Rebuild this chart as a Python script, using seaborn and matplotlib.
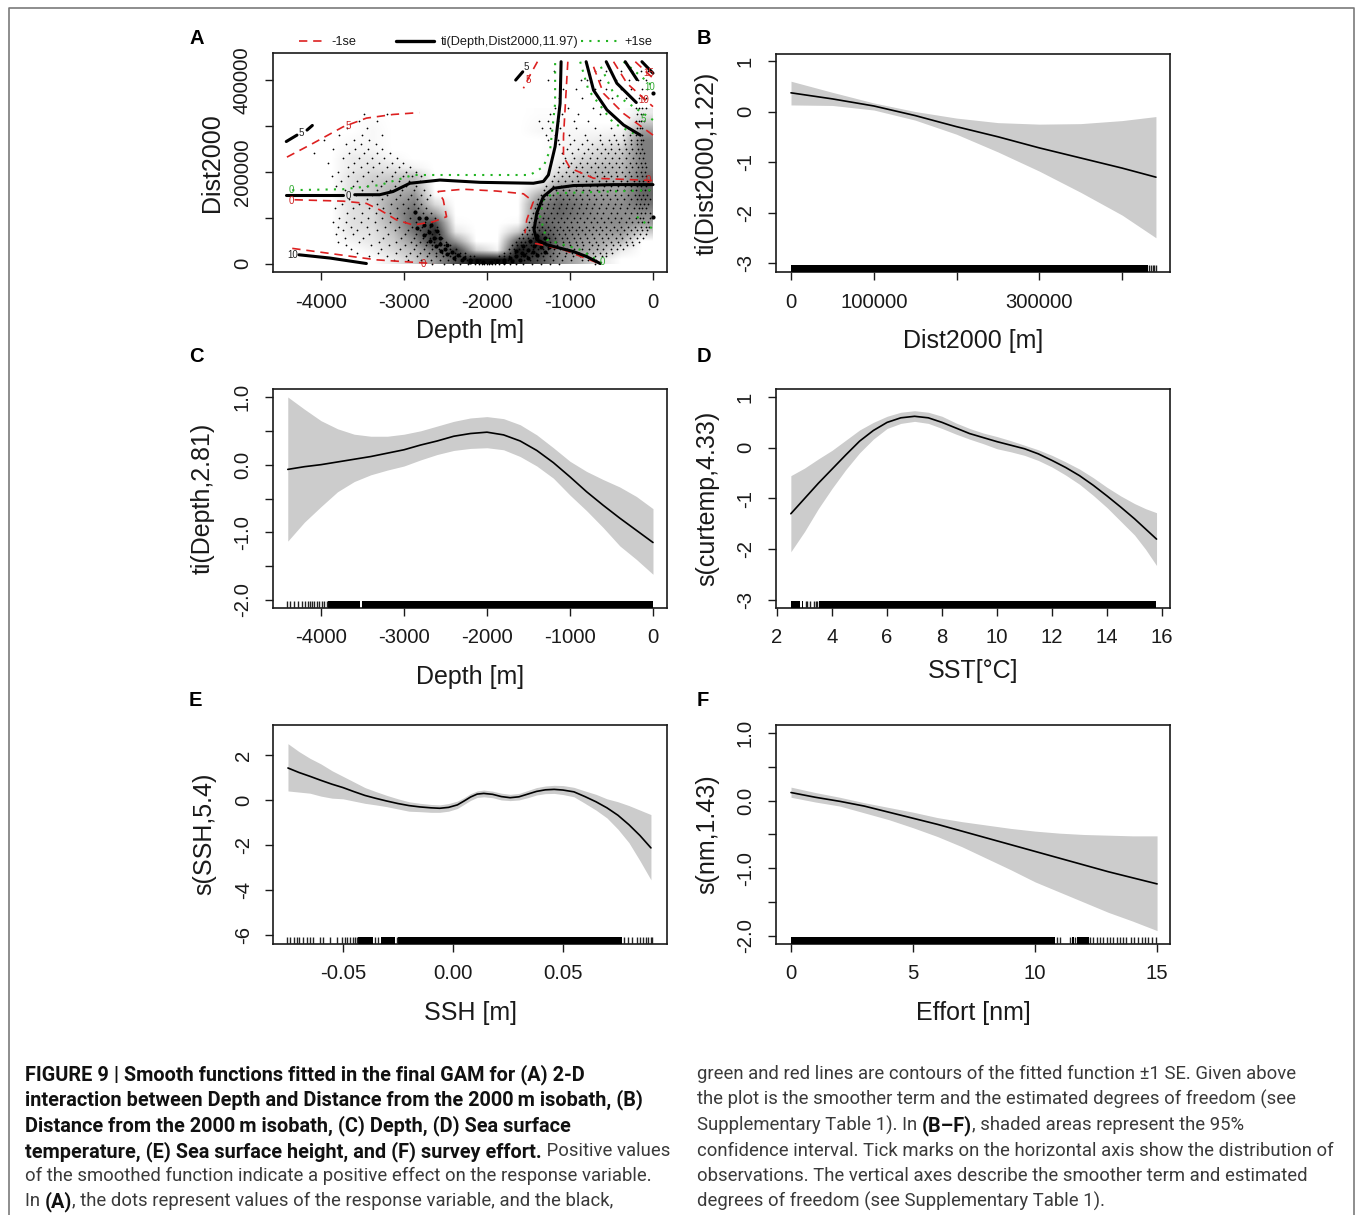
import matplotlib
matplotlib.use("Agg")
import matplotlib.pyplot as plt
import seaborn as sns
import pandas as pd
from matplotlib.lines import Line2D

sns.set_theme(style="ticks")
plt.rcParams['font.family'] = ['Liberation Sans', 'DejaVu Sans']

# ---------- panel B ----------
b_x = [0, 50000, 100000, 150000, 200000, 250000, 300000, 350000, 400000, 441000]
b_fit = [.37, .25, .11, -.08, -.30, -.50, -.72, -.92, -1.12, -1.30]
b_up = [.60, .38, .17, .0, -.13, -.22, -.25, -.24, -.18, -.10]
b_lo = [.13, .12, .03, -.17, -.45, -.80, -1.18, -1.60, -2.05, -2.50]
b_bands = [(0, 432000)]
b_rug = [433000, 435000, 437000, 439000, 441000]
# ---------- panel C ----------
c_x = [-4400, -4200, -4000, -3800, -3600, -3400, -3200, -3000, -2800, -2600, -2400, -2200, -2000, -1800, -1600, -1400, -1200, -1000, -800, -600, -400, -200, 0]
c_fit = [-.07, -.03, .0, .04, .08, .12, .17, .22, .29, .35, .42, .46, .48, .44, .35, .21, .03, -.18, -.40, -.60, -.79, -.97, -1.15]
c_up = [1.0, .82, .65, .53, .45, .42, .42, .45, .50, .57, .64, .69, .71, .68, .59, .44, .25, .05, -.10, -.22, -.33, -.47, -.65]
c_lo = [-1.13, -.85, -.62, -.40, -.25, -.15, -.08, -.02, .07, .15, .21, .24, .25, .22, .12, -.02, -.20, -.45, -.68, -.93, -1.2, -1.4, -1.62]
c_bands = [(-3912, -3525), (-3505, 0)]
c_rug = [-4405, -4373, -4325, -4273, -4233, -4193, -4153, -4133, -4112, -4084, -4052, -4020, -3992, -3964, -3932]
# ---------- panel D ----------
d_x = [2.5, 3, 3.5, 4, 4.5, 5, 5.5, 6, 6.5, 7, 7.5, 8, 8.5, 9, 9.5, 10, 10.5, 11, 11.5, 12, 12.5, 13, 13.5, 14, 14.5, 15, 15.4, 15.8]
d_fit = [-1.30, -1.0, -.70, -.42, -.14, .13, .34, .50, .59, .62, .59, .50, .39, .28, .20, .12, .05, -.02, -.12, -.25, -.39, -.55, -.74, -.95, -1.17, -1.40, -1.60, -1.80]
d_up = [-.55, -.40, -.22, -.05, .15, .35, .50, .62, .70, .73, .70, .62, .49, .38, .29, .22, .14, .05, -.04, -.15, -.28, -.42, -.59, -.78, -.95, -1.10, -1.20, -1.28]
d_lo = [-2.05, -1.65, -1.2, -.80, -.43, -.10, .17, .38, .48, .52, .48, .38, .27, .17, .08, -.02, -.08, -.15, -.25, -.38, -.54, -.72, -.94, -1.18, -1.45, -1.72, -2.0, -2.32]
d_bands = [(2.51, 2.84), (2.9, 2.96), (3.53, 15.78)]
d_rug = [3.04, 3.1, 3.2, 3.36, 3.4, 3.44]
# ---------- panel E ----------
e_x = [-.075, -.07, -.065, -.06, -.055, -.05, -.045, -.04, -.035, -.03, -.025, -.02, -.015, -.01, -.006, -.002, .002, .005, .008, .011, .014, .018, .022, .026, .03, .034, .038, .042, .046, .05, .055, .06, .065, .07, .075, .08, .085, .09]
e_fit = [1.42, 1.22, 1.05, .87, .70, .55, .37, .20, .07, -.05, -.16, -.25, -.31, -.35, -.37, -.33, -.22, -.05, .13, .26, .29, .25, .15, .10, .14, .26, .38, .45, .47, .44, .36, .15, -.08, -.35, -.68, -1.10, -1.58, -2.13]
e_up = [2.5, 2.15, 1.85, 1.6, 1.3, 1.05, .8, .55, .37, .20, .05, -.08, -.15, -.20, -.22, -.16, -.05, .1, .28, .40, .44, .39, .30, .25, .29, .42, .55, .62, .65, .64, .56, .40, .25, .05, -.08, -.25, -.45, -.65]
e_lo = [.40, .35, .30, .17, .08, .05, -.05, -.15, -.22, -.30, -.40, -.50, -.52, -.55, -.55, -.50, -.38, -.2, -.02, .11, .14, .10, .0, -.03, 0, .1, .22, .28, .29, .24, .14, -.15, -.45, -.80, -1.3, -1.9, -2.7, -3.55]
e_bands = [(-.0430, -.0362), (-.0325, -.0264), (-.0249, .0767)]
e_rug = [-.0753, -.0741, -.0723, -.0711, -.0699, -.0680, -.0662, -.0650, -.0635, -.0605, -.0590, -.0559, -.0529, -.0506,
         -.0491, -.0480, -.0468, -.0456, -.0445, -.0435, -.0355, -.0339, -.0256, .0777, .0797, .0812, .0835, .0850,
         .0865, .0877, .0887, .0898, .0907]
# ---------- panel F ----------
f_x = [0, 1, 2, 3, 4, 5, 6, 7, 8, 9, 10, 11, 12, 13, 14, 15]
f_fit = [.12, .05, -.01, -.08, -.17, -.26, -.35, -.45, -.55, -.65, -.75, -.85, -.95, -1.05, -1.14, -1.23]
f_up = [.20, .12, .05, -.03, -.10, -.17, -.25, -.31, -.36, -.41, -.45, -.48, -.50, -.51, -.52, -.52]
f_lo = [.05, -.02, -.08, -.18, -.28, -.40, -.53, -.68, -.85, -1.02, -1.20, -1.35, -1.50, -1.65, -1.78, -1.92]
f_bands = [(0, 10.82), (11.5, 11.6), (11.7, 12.2)]
f_rug = [10.9, 11.03, 11.43, 11.64, 12.25, 12.39, 12.52, 12.66, 12.8, 12.93, 13.07, 13.21, 13.34, 13.48, 13.62, 13.71,
         13.93, 14.07, 14.23, 14.37, 14.51, 14.64, 14.78, 14.95]

# ---------- panel A: contours (Depth [m], Dist2000 [km]) ----------
black_lines = [
    ([-4418, -3734], [150, 150]),
    ([-3593, -3292, -3131, -2929, -2567, -2084, -1441, -1320, -1260, -1179, -1119, -1107], [150, 150, 157, 175, 182, 177, 175, 179, 193, 255, 349, 440]),
    ([0, -475, -958, -1199, -1320, -1400, -1433, -1400, -1280, -958, -797, -636], [172, 172, 170, 164, 146, 110, 73, 52, 41, 26, 15, 0]),
    ([-805, -716, -555, -354, -153], [440, 378, 335, 302, 280]),
    ([-563, -435, -201], [440, 393, 351]),
    ([-334, -193], [440, 401]),
    ([-133, 0], [440, 415]),
    ([-4418, -4289], [266, 280]),
    ([-4168, -4104], [291, 301]),
    ([-1654, -1569], [400, 418]),
    ([-4265, -3895, -3453], [19, 12, 0]),
]
red_lines = [
    ([-4410, -4096, -3734, -3453, -3131, -2817], [232, 262, 298, 317, 325, 329]),
    ([-4318, -3734, -3453, -3292, -3090, -2889, -2648, -2487, -2527, -2588, -2286, -1883, -1561, -1441, -1521, -1541],
     [139, 136, 131, 117, 95, 84, 91, 102, 139, 157, 162, 158, 152, 135, 95, 66]),
    ([-4346, -3895, -3332, -2648], [33, 22, 8, 0]),
    ([-1421, -1078, -676], [44, 30, 2]),
    ([-1392, -1481, -1561], [440, 411, 382]),
    ([-1026, -1078, -1078, -998, -716, 0], [440, 277, 233, 208, 186, 181]),
    ([-716, -596, -354, 0], [429, 371, 327, 280]),
    ([-475, -314, 0], [440, 393, 342]),
    ([-213, 0], [440, 404]),
]
green_lines = [
    ([-4346, -3734, -3292, -2889, -1481, -1320, -1239, -1179, -1179], [160, 162, 171, 193, 193, 211, 248, 349, 440]),
    ([-616, -877, -1280, -1360, -1320, -1199, 0], [1, 30, 52, 102, 139, 153, 160]),
    ([-877, -777, -475, -193], [440, 378, 306, 280]),
    ([-628, -475, 0], [429, 371, 313]),
    ([-354, 0], [440, 386]),
    ([-193, 0], [102, 75]),
]
contour_labels = [
    (-4237, 284, "5", "#222222"), (-3666, 148, "0", "#222222"), (-4346, 19, "10", "#222222"), (-1521, 429, "5", "#222222"),
    (-3674, 300, "5", "#cc2222"), (-4358, 136, "0", "#cc2222"), (-2769, -1, "0", "#cc2222"), (-1501, 400, "5", "#cc2222"),
    (-52, 182, "0", "#cc2222"), (-52, 415, "15", "#cc2222"), (-113, 356, "10", "#cc2222"),
    (-4358, 160, "0", "#33aa33"), (-616, 4, "0", "#33aa33"), (-40, 385, "10", "#33aa33"), (-113, 315, "5", "#33aa33"),
]

# how dark the cloud of observations looks in panel A (bottom row first)
cloud_depth_edges = (-4000, 0)
cloud_dist_edges = (0, 340)
cloud_rows = [
    [0, 0, 0, .08, .20, .40, .70, .95, .95, .85, .70, .45, .30, .10, 0, 0],
    [0, 0, .05, .15, .28, .55, .80, .20, .05, .90, .80, .45, .38, .28, .08, 0],
    [0, .05, .10, .20, .42, .80, .40, 0, 0, .65, .90, .55, .42, .35, .28, 0],
    [0, .10, .12, .25, .55, .85, .10, 0, 0, .22, .72, .55, .48, .40, .40, .20],
    [0, .12, .15, .32, .62, .70, .02, 0, 0, .02, .62, .55, .48, .45, .45, .40],
    [0, .12, .15, .38, .60, .38, 0, 0, 0, 0, .55, .60, .52, .45, .45, .45],
    [0, .12, .18, .38, .52, .15, 0, 0, 0, 0, .50, .60, .52, .45, .45, .55],
    [0, .12, .20, .32, .42, .02, 0, 0, 0, 0, .32, .52, .45, .40, .40, .60],
    [0, .12, .20, .28, .30, 0, 0, 0, 0, 0, .10, .35, .35, .35, .35, .60],
    [0, .12, .18, .20, .25, 0, 0, 0, 0, 0, 0, .20, .28, .30, .30, .55],
    [0, .08, .12, .10, .05, 0, 0, 0, 0, 0, 0, .10, .22, .28, .28, .50],
    [0, .08, .08, .03, 0, 0, 0, 0, 0, 0, 0, .05, .15, .20, .25, .50],
    [0, .04, .04, 0, 0, 0, 0, 0, 0, 0, 0, .03, .08, .15, .20, .50],
    [0, .02, .03, 0, 0, 0, 0, 0, 0, 0, 0, .03, .05, .08, .10, .50],
    [0, 0, .03, 0, 0, 0, 0, 0, 0, 0, .03, .03, .03, .03, .05, .38],
    [0, 0, .02, 0, 0, 0, 0, 0, 0, 0, .02, .02, 0, 0, 0, .20],
    [0, 0, 0, 0, 0, 0, 0, 0, 0, 0, .01, .01, 0, 0, 0, .08],
]

# observations in panel A, read row by row: one Dist2000 level [km], its Depth values [m]
obs_dist = [0, 8, 16, 24, 32, 40, 48, 56, 64, 72, 80, 90, 100, 110, 120, 130, 140, 150, 160, 170, 180, 190, 200, 210, 220,
            230, 240, 250, 260, 270, 280, 295, 310, 325, 340, 360, 380, 400, 420]
obs_depth = [
    [-2660, -2520, -2410, -2320, -2230, -2150, -2100, -2060, -2030, -2000, -1970, -1940, -1900, -1860, -1800, -1720, -1650, -1560, -1460, -1350, -1240, -1130, -700],
    [-3120, -2950, -2800, -2680, -2560, -2470, -2380, -2300, -2240, -2180, -2130, -2090, -1910, -1860, -1810, -1750, -1690, -1620, -1550, -1480, -1400, -1310, -1200, -1100, -990, -850, -780, -690],
    [-3420, -3200, -2980, -2840, -2720, -2620, -2530, -2450, -2390, -2330, -2270, -2210, -2160, -1850, -1790, -1730, -1660, -1590, -1520, -1460, -1390, -1320, -1240, -1160, -1060, -960, -880, -790, -700, -620, -560],
    [-3560, -3310, -3100, -2930, -2810, -2700, -2610, -2540, -2460, -2390, -2320, -2260, -1790, -1720, -1660, -1590, -1530, -1470, -1410, -1350, -1280, -1210, -1130, -1050, -970, -890, -800, -720, -640, -560, -490],
    [-3640, -3280, -3050, -2880, -2760, -2660, -2580, -2510, -2440, -2370, -1740, -1680, -1620, -1570, -1500, -1440, -1380, -1320, -1260, -1190, -1120, -1030, -950, -860, -770, -680, -600, -510, -430, -360],
    [-3700, -3400, -3180, -2990, -2850, -2740, -2660, -2590, -2520, -2450, -1700, -1640, -1590, -1530, -1470, -1410, -1350, -1290, -1230, -1160, -1090, -1000, -920, -840, -740, -660, -570, -480, -400, -310, -240],
    [-3800, -3540, -3300, -3100, -2920, -2810, -2720, -2640, -2570, -2490, -1650, -1590, -1540, -1480, -1420, -1370, -1300, -1240, -1170, -1090, -1010, -930, -850, -770, -690, -600, -510, -420, -330, -250, -170],
    [-3710, -3490, -3250, -3040, -2880, -2770, -2690, -2620, -2540, -1620, -1560, -1500, -1440, -1380, -1310, -1250, -1180, -1100, -1030, -950, -880, -790, -710, -620, -540, -450, -370, -280, -190, -120],
    [-3820, -3620, -3420, -3190, -2990, -2850, -2740, -2660, -2580, -1580, -1520, -1460, -1400, -1340, -1270, -1200, -1130, -1060, -980, -900, -820, -730, -650, -570, -490, -400, -310, -230, -160, -90],
    [-3740, -3560, -3330, -3110, -2950, -2810, -2710, -2630, -1550, -1490, -1430, -1370, -1300, -1240, -1160, -1090, -1010, -930, -860, -770, -690, -610, -520, -430, -350, -270, -190, -130, -70],
    [-3790, -3640, -3440, -3230, -3060, -2900, -2780, -2690, -2600, -1520, -1460, -1400, -1340, -1270, -1190, -1120, -1040, -970, -890, -810, -720, -640, -560, -470, -390, -300, -220, -150, -90, -50],
    [-3850, -3700, -3520, -3350, -3170, -2990, -2850, -2750, -2660, -1490, -1430, -1370, -1290, -1220, -1150, -1070, -990, -910, -830, -750, -670, -590, -500, -410, -330, -250, -180, -130, -60],
    [-3780, -3600, -3430, -3260, -3080, -2930, -2810, -2720, -2630, -1470, -1400, -1330, -1260, -1190, -1110, -1030, -950, -880, -790, -710, -630, -540, -460, -380, -290, -210, -160, -120, -40],
    [-3690, -3510, -3340, -3170, -3000, -2870, -2770, -2680, -1440, -1380, -1310, -1230, -1160, -1080, -1000, -920, -840, -760, -680, -600, -510, -430, -340, -260, -190, -150, -100, -30],
    [-3830, -3610, -3420, -3250, -3090, -2950, -2830, -2730, -1420, -1350, -1280, -1210, -1130, -1050, -970, -890, -810, -730, -650, -560, -480, -400, -310, -230, -170, -130, -80],
    [-3750, -3540, -3330, -3160, -3010, -2880, -2790, -1400, -1340, -1270, -1190, -1110, -1030, -950, -870, -790, -710, -630, -540, -460, -380, -290, -210, -160, -110, -60],
    [-3660, -3450, -3270, -3100, -2950, -2840, -2720, -1380, -1310, -1240, -1170, -1090, -1010, -930, -860, -770, -690, -600, -520, -430, -350, -270, -190, -150, -100, -40],
    [-3890, -3580, -3380, -3210, -3050, -2920, -2800, -2690, -1350, -1280, -1200, -1120, -1040, -960, -880, -800, -710, -630, -550, -460, -380, -300, -220, -170, -120, -70],
    [-3710, -3500, -3330, -3170, -3020, -2880, -2760, -1310, -1240, -1170, -1090, -1010, -930, -840, -770, -680, -600, -520, -430, -350, -270, -200, -150, -100, -50],
    [-3820, -3620, -3440, -3280, -3110, -2980, -2860, -1290, -1200, -1110, -1020, -930, -850, -760, -670, -590, -510, -420, -340, -260, -190, -140, -90],
    [-3760, -3560, -3390, -3220, -3060, -2940, -2810, -1220, -1140, -1060, -980, -900, -810, -730, -650, -560, -480, -390, -310, -230, -170, -120, -60],
    [-3870, -3670, -3490, -3320, -3150, -3010, -2900, -2790, -1190, -1100, -1010, -920, -840, -760, -670, -590, -510, -430, -340, -260, -190, -130, -80],
    [-3790, -3610, -3430, -3260, -3110, -2980, -2860, -1150, -1050, -960, -880, -790, -700, -620, -540, -450, -370, -290, -210, -150, -100],
    [-3680, -3520, -3370, -3200, -3060, -2930, -1130, -1020, -930, -850, -750, -660, -580, -490, -410, -330, -250, -180, -130, -80],
    [-3910, -3600, -3440, -3300, -3150, -3010, -1090, -990, -880, -790, -700, -620, -530, -450, -370, -280, -200, -150, -100],
    [-3740, -3540, -3390, -3240, -3090, -1060, -950, -850, -760, -670, -580, -490, -410, -320, -240, -170, -120],
    [-4080, -3660, -3480, -3320, -3170, -1100, -970, -830, -730, -630, -540, -460, -370, -290, -210, -160, -110],
    [-3850, -3590, -3430, -3260, -1040, -900, -780, -670, -580, -500, -410, -330, -250, -180, -130],
    [-3700, -3520, -3340, -1130, -1000, -850, -730, -610, -510, -420, -340, -260, -190, -140],
    [-3960, -3600, -3420, -1270, -1150, -950, -790, -640, -530, -440, -350, -270, -190, -150, -120],
    [-3780, -3510, -3260, -1290, -1180, -1010, -820, -640, -470, -360, -280, -200, -160, -130],
    [-3690, -3440, -1340, -1240, -1120, -930, -700, -500, -300, -190, -160, -130],
    [-3540, -3320, -1370, -1270, -1140, -950, -780, -200, -170, -140, -110],
    [-3480, -3210, -1240, -1100, -900, -640, -190, -150, -120],
    [-1180, -1020, -720, -210, -170, -130, -90],
    [-1130, -860, -490, -330, -170, -120, -80],
    [-1080, -930, -700, -560, -390, -260, -130, -70],
    [-1260, -870, -790, -640, -440, -290, -180, -90],
    [-1190, -700, -560, -380, -250, -140, -60],
]
# darkest parts of the cloud in panel A
dense_depth = [-2050, -2120, -2200, -2280, -2350, -2420, -2500, -2570, -2640, -2700, -2760, -2820, -2870, -2200, -2300, -2400, -2480,
               -2550, -2620, -2690, -2760, -2840, -2480, -2560, -2600, -2680, -2740, -1950, -1880, -1800, -1720, -1650, -1580,
               -1500, -1430, -1360, -1300, -1800, -1700, -1600, -1500, -1400, -1300, -1250, -1650, -1560, -1480, -1400, -1550,
               -1450, -1350, -5, -2]
dense_dist = [3, 5, 8, 12, 18, 25, 32, 42, 55, 68, 85, 100, 112, 3, 7, 13, 20, 28, 38, 50, 62, 78, 40, 55, 70, 85, 100, 3, 5, 8, 12, 17,
              24, 30, 38, 46, 55, 3, 5, 8, 12, 18, 25, 35, 28, 38, 50, 60, 18, 25, 35, 102, 372]

# ---------- text ----------
caption_left = [
    [("FIGURE 9 | Smooth functions fitted in the final GAM for (A) 2-D", True)],
    [("interaction between Depth and Distance from the 2000\u2009m isobath, (B)", True)],
    [("Distance from the 2000\u2009m isobath, (C) Depth, (D) Sea surface", True)],
    [("temperature, (E) Sea surface height, and (F) survey effort.", True), (" Positive values", False)],
    [("of the smoothed function indicate a positive effect on the response variable.", False)],
    [("In ", False), ("(A)", True), (", the dots represent values of the response variable, and the black,", False)],
]
caption_right = [
    [("green and red lines are contours of the fitted function \u00b11 SE. Given above", False)],
    [("the plot is the smoother term and the estimated degrees of freedom (see", False)],
    [("Supplementary Table 1). In ", False), ("(B\u2013F)", True), (", shaded areas represent the 95%", False)],
    [("confidence interval. Tick marks on the horizontal axis show the distribution of", False)],
    [("observations. The vertical axes describe the smoother term and estimated", False)],
    [("degrees of freedom (see Supplementary Table 1).", False)],
]
caption_y = [1072, 1097, 1123, 1149, 1174, 1199]

W, H = 1355, 1215
fig = plt.figure(figsize=(W / 100, H / 100), dpi=100, facecolor="white")
INK = "#1a1a1a"
GREY = "#cccccc"


def make_axes(box, xlim, ylim, xticks, xlabels, yticks, ylabels, xlab, ylab, xlab_pos, ylab_pos, tick_y, tick_x):
    x0, y0, x1, y1 = box
    ax = fig.add_axes([x0 / W, 1 - y1 / H, (x1 - x0) / W, (y1 - y0) / H])
    ax.set_xlim(xlim)
    ax.set_ylim(ylim)
    ax.set_xticks(xticks)
    ax.set_xticklabels(xlabels)
    ax.set_yticks(yticks)
    ax.set_yticklabels(ylabels, rotation=90, va="center")
    ax.tick_params(axis="both", length=5.8, width=1.0, color=INK, labelcolor=INK, labelsize=14.6)
    ax.tick_params(axis="x", pad=(tick_y - y1 - 8 - 8) * 0.72)
    ax.tick_params(axis="y", pad=(x0 - tick_x - 8 - 10) * 0.72)
    for s in ax.spines.values():
        s.set_visible(True)
        s.set_linewidth(1.2)
        s.set_color(INK)
    ax.set_xlabel(xlab, fontsize=18, color=INK)
    ax.set_ylabel(ylab, fontsize=18, color=INK)
    ax.xaxis.set_label_coords((xlab_pos[0] - x0) / (x1 - x0), (y1 - xlab_pos[1] - 2) / (y1 - y0))
    ax.xaxis.label.set_va("center")
    ax.yaxis.set_label_coords((ylab_pos[0] + 1 - x0) / (x1 - x0), (y1 - ylab_pos[1]) / (y1 - y0))
    ax.yaxis.label.set_va("center")
    return ax


def smooth_panel(ax, x, fit, up, lo, bands, rug):
    ax.fill_between(x, lo, up, color=GREY, lw=0, zorder=1)
    sns.lineplot(x=x, y=fit, ax=ax, color="black", lw=1.2, errorbar=None, sort=False, estimator=None, zorder=3)
    for a, b in bands:
        ax.axvspan(a, b, ymin=0, ymax=0.032, color="black", lw=0, zorder=4)
    sns.rugplot(x=rug, ax=ax, height=0.032, color="#222222", lw=0.8, zorder=4)


xt_depth = [-4000, -3000, -2000, -1000, 0]
xl_depth = ["-4000", "-3000", "-2000", "-1000", "0"]
depth_lim = (-4578, 169)

axA = make_axes((273, 53, 667, 272), depth_lim, (-18.5, 459), xt_depth, xl_depth,
                [0, 100, 200, 300, 400], ["0", "", "200000", "", "400000"], "Depth [m]", "Dist2000",
                (470, 329), (211, 162), 301, 242)
axB = make_axes((776, 54, 1170, 272), (-18127, 458000), (-3.178, 1.139), [0, 100000, 200000, 300000, 400000],
                ["0", "100000", "", "300000", ""], [1, 0, -1, -2, -3], ["1", "0", "-1", "-2", "-3"],
                "Dist2000 [m]", "ti(Dist2000,1.22)", (973, 339), (706, 163), 301, 745)
axC = make_axes((273, 389, 667, 608), depth_lim, (-2.118, 1.118), xt_depth, xl_depth,
                [1, .5, 0, -.5, -1, -1.5, -2], ["1.0", "", "0.0", "", "-1.0", "", "-2.0"],
                "Depth [m]", "ti(Depth,2.81)", (470, 675), (202, 498), 636, 242)
axD = make_axes((776, 389, 1170, 608), (1.96, 16.29), (-3.158, 1.158), [2, 4, 6, 8, 10, 12, 14, 16],
                ["2", "4", "6", "8", "10", "12", "14", "16"], [1, 0, -1, -2, -3], ["1", "0", "-1", "-2", "-3"],
                "SST[\u00b0C]", "s(curtemp,4.33)", (973, 669), (706, 498), 636, 745)
axE = make_axes((273, 725, 667, 944), (-.0818, .0973), (-6.4, 3.33), [-.05, 0, .05], ["-0.05", "0.00", "0.05"],
                [2, 0, -2, -4, -6], ["2", "0", "-2", "-4", "-6"], "SSH [m]", "s(SSH,5.4)",
                (470, 1011), (203, 834), 972, 243)
axF = make_axes((776, 725, 1170, 944), (-.615, 15.53), (-2.118, 1.118), [0, 5, 10, 15], ["0", "5", "10", "15"],
                [1, .5, 0, -.5, -1, -1.5, -2], ["1.0", "", "0.0", "", "-1.0", "", "-2.0"],
                "Effort [nm]", "s(nm,1.43)", (973, 1011), (706, 834), 972, 745)

smooth_panel(axB, b_x, b_fit, b_up, b_lo, b_bands, b_rug)
smooth_panel(axC, c_x, c_fit, c_up, c_lo, c_bands, c_rug)
smooth_panel(axD, d_x, d_fit, d_up, d_lo, d_bands, d_rug)
smooth_panel(axE, e_x, e_fit, e_up, e_lo, e_bands, e_rug)
smooth_panel(axF, f_x, f_fit, f_up, f_lo, f_bands, f_rug)

# panel A
axA.imshow(cloud_rows, origin="lower", aspect="auto", cmap="gray_r", vmin=0, vmax=1, interpolation="bilinear",
           extent=(*cloud_depth_edges, *cloud_dist_edges), zorder=1)
axA.set_xlim(depth_lim)
axA.set_ylim(-18.5, 459)
obs = pd.DataFrame([(d, v) for v, row in zip(obs_dist, obs_depth) for d in row], columns=["Depth", "Dist"])
sns.scatterplot(data=obs, x="Depth", y="Dist", ax=axA, s=1.6, color="black", linewidth=0, zorder=2)
sns.scatterplot(x=dense_depth, y=dense_dist, ax=axA, s=9, color="black", linewidth=0, zorder=2)
for xs, ys in green_lines:
    sns.lineplot(x=xs, y=ys, ax=axA, color="#22b422", lw=1.5, ls=(0, (1, 3)), errorbar=None, sort=False, estimator=None, zorder=3)
for xs, ys in red_lines:
    sns.lineplot(x=xs, y=ys, ax=axA, color="#dd2020", lw=1.2, ls=(0, (5, 3.5)), errorbar=None, sort=False, estimator=None, zorder=3)
for xs, ys in black_lines:
    sns.lineplot(x=xs, y=ys, ax=axA, color="black", lw=2.2, errorbar=None, sort=False, estimator=None, zorder=4)
for x_, y_, t_, c_ in contour_labels:
    axA.text(x_, y_, t_, color=c_, fontsize=7, ha="center", va="center", zorder=5)
axA.set_xlabel("Depth [m]", fontsize=18, color=INK)
axA.set_ylabel("Dist2000", fontsize=18, color=INK)

# legend row above panel A
def fx(px):
    return px / W
def fy(py):
    return 1 - py / H
fig.add_artist(Line2D([fx(299), fx(327)], [fy(41)] * 2, color="#dd2020", lw=1.2, ls=(0, (5, 3.5))))
fig.add_artist(Line2D([fx(396), fx(434)], [fy(41)] * 2, color="black", lw=2.4))
fig.add_artist(Line2D([fx(581), fx(618)], [fy(41)] * 2, color="#22b422", lw=1.5, ls=(0, (1, 3))))
for px, t in [(331, "-1se"), (441, "ti(Depth,Dist2000,11.97)"), (624, "+1se")]:
    fig.text(fx(px), fy(42), t, fontsize=9.2, color=INK, va="center", ha="left")

# panel letters
for px, py, t in [(189, 39, "A"), (697, 39, "B"), (189, 356, "C"), (697, 356, "D"), (189, 700, "E"), (697, 700, "F")]:
    fig.text(fx(px), fy(py), t, fontsize=14.5, fontweight="bold", color="black", va="center", ha="left")

# frame
fig.add_artist(Line2D([fx(9), fx(9), fx(1354), fx(1354)], [fy(1215), fy(8), fy(8), fy(1215)], color="#7a7a7a", lw=1.2))

# caption
renderer = fig.canvas.get_renderer()
def caption(lines, x_start):
    for line, py in zip(lines, caption_y):
        x = x_start
        for text, bold in line:
            t = fig.text(fx(x), fy(py), text, fontsize=14.3 if bold else 13.35, family=["Roboto", "DejaVu Sans"],
                         fontweight="bold" if bold else "normal", color="#111111" if bold else "#3a3a3a",
                         va="center_baseline", ha="left")
            x = t.get_window_extent(renderer).x1
caption(caption_left, 25)
caption(caption_right, 697)

fig.savefig("out.png", dpi=100, facecolor="white")
